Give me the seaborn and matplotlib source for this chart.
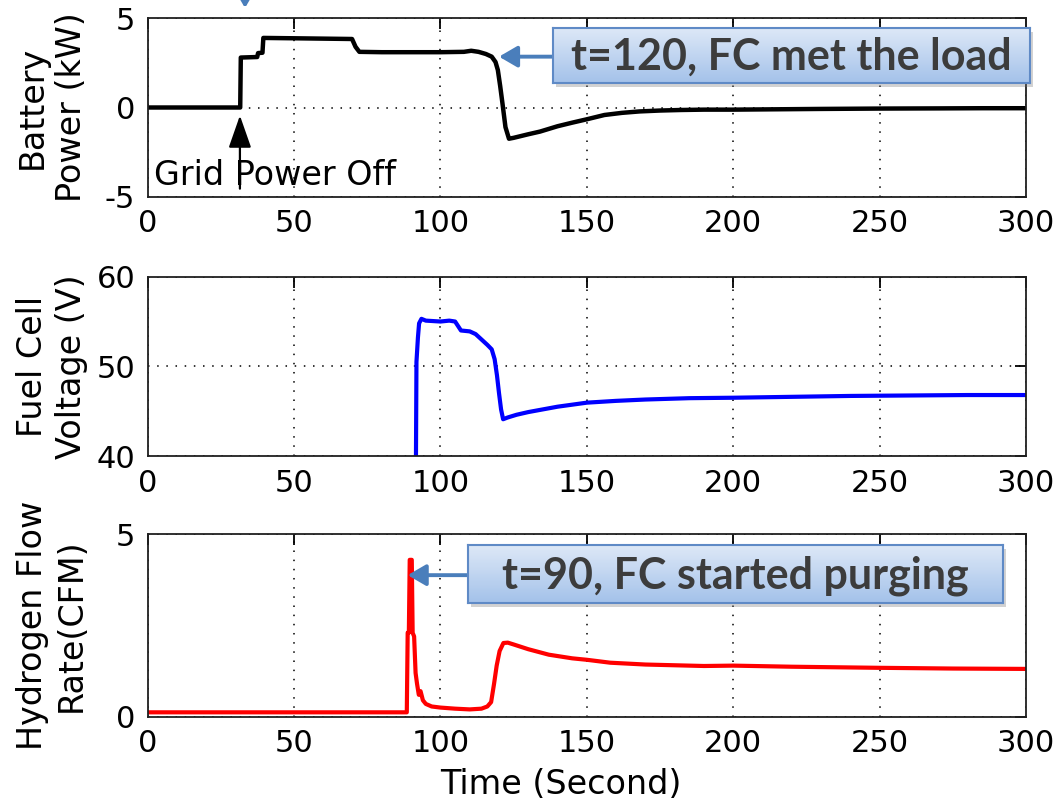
import numpy as np
import pandas as pd
import matplotlib
matplotlib.use("Agg")
import matplotlib.pyplot as plt
from matplotlib.colors import LinearSegmentedColormap
from matplotlib.patches import Rectangle, FancyArrowPatch
import seaborn as sns

# ---------------- data ----------------
batt_t = [0, 31.6, 31.8, 37.4, 37.7, 39.2, 39.5, 50, 60, 69.8, 71.0, 72.3, 80, 90, 100, 108,
          110.5, 113, 115.5, 117.5, 118.8, 119.6, 120.4, 121.2, 122.2, 123.4, 125, 130, 134,
          140, 145, 150, 156, 162, 168, 175, 182, 190, 200, 215, 230, 250, 270, 285, 300]
batt_p = [0, 0, 2.8, 2.83, 3.05, 3.07, 3.9, 3.88, 3.86, 3.84, 3.4, 3.12, 3.1, 3.1, 3.1, 3.12,
          3.18, 3.12, 3.0, 2.85, 2.55, 2.1, 1.2, 0.2, -1.1, -1.75, -1.7, -1.5, -1.35,
          -1.05, -0.85, -0.66, -0.42, -0.3, -0.22, -0.17, -0.14, -0.12, -0.12, -0.1, -0.08,
          -0.06, -0.05, -0.04, -0.04]

fc_t = [91.6, 91.8, 92.3, 92.7, 93.5, 95, 100, 103, 105, 106, 107, 110, 112, 114, 116, 117.5,
        118.5, 119.3, 120.0, 120.7, 121.4, 123, 126, 130, 135, 140, 150, 160, 170, 185, 200,
        220, 240, 260, 280, 300]
fc_v = [38, 50.5, 53.2, 54.8, 55.3, 55.1, 55.0, 55.1, 55.0, 54.5, 54.0, 53.9, 53.6, 53.0, 52.4,
        51.9, 50.8, 49.0, 47.0, 45.2, 44.1, 44.3, 44.6, 44.9, 45.2, 45.5, 45.95, 46.15, 46.3,
        46.45, 46.5, 46.6, 46.7, 46.75, 46.8, 46.8]

h2_t = [0, 88.5, 88.8, 89.2, 89.5, 90.2, 90.5, 91.0, 91.5, 92.0, 92.6, 93.2, 94, 95, 97, 100,
        105, 110, 114, 116, 117.3, 118.3, 119.2, 120.2, 121.5, 123, 125, 130, 137, 145, 150,
        158, 170, 190, 200, 220, 250, 275, 300]
h2_f = [0.12, 0.12, 2.3, 2.3, 4.3, 4.3, 2.3, 2.2, 1.2, 0.9, 0.6, 0.7, 0.45, 0.35, 0.28, 0.25,
        0.22, 0.2, 0.22, 0.28, 0.4, 0.9, 1.4, 1.8, 2.02, 2.03, 1.98, 1.85, 1.7, 1.6, 1.56,
        1.48, 1.43, 1.39, 1.4, 1.37, 1.34, 1.32, 1.31]

x_ticks = [0, 50, 100, 150, 200, 250, 300]
ylabels = ["Battery\nPower (kW)", "Fuel Cell\nVoltage (V)", "Hydrogen Flow\nRate(CFM)"]
xlabel = "Time (Second)"
note_grid = "Grid Power Off"
note_load = "t=120, FC met the load"
note_purge = "t=90, FC started purging"

# ---------------- style ----------------
sns.set_style("white")
plt.rcParams['font.family'] = ['DejaVu Sans']
plt.rcParams['axes.edgecolor'] = '#202020'
plt.rcParams['axes.linewidth'] = 1.3
plt.rcParams['text.color'] = 'black'
plt.rcParams['axes.labelcolor'] = 'black'
plt.rcParams['xtick.color'] = 'black'
plt.rcParams['ytick.color'] = 'black'
plt.rcParams['axes.unicode_minus'] = False

W, H = 1061, 811
fig = plt.figure(figsize=(W / 100, H / 100), dpi=100)

def frac_rect(left, top, right, bottom):
    return [left / W, 1 - bottom / H, (right - left) / W, (bottom - top) / H]

ax1 = fig.add_axes(frac_rect(147.7, 18.3, 1026, 196.7))
ax2 = fig.add_axes(frac_rect(147.7, 276.7, 1026, 456.0))
ax3 = fig.add_axes(frac_rect(147.7, 534.3, 1026, 716.7))

df1 = pd.DataFrame({"t": batt_t, "v": batt_p})
df2 = pd.DataFrame({"t": fc_t, "v": fc_v})
df3 = pd.DataFrame({"t": h2_t, "v": h2_f})

sns.lineplot(data=df1, x="t", y="v", ax=ax1, color="black", lw=3.2, estimator=None, sort=False)
sns.lineplot(data=df2, x="t", y="v", ax=ax2, color="#0000ff", lw=3.0, estimator=None, sort=False)
sns.lineplot(data=df3, x="t", y="v", ax=ax3, color="#ff0000", lw=3.0, estimator=None, sort=False)

ylims = [(-5, 5), (40, 60), (0, 5)]
yticks = [[-5, 0, 5], [40, 50, 60], [0, 5]]
for ax, yl, yt, lab in zip([ax1, ax2, ax3], ylims, yticks, ylabels):
    ax.set_xlim(0, 300)
    ax.set_ylim(*yl)
    ax.set_xticks(x_ticks)
    ax.set_yticks(yt)
    ax.tick_params(direction="in", length=8, width=1.3, top=True, right=True,
                   labelsize=22, pad=9, colors="black")
    ax.grid(True, color="black", linestyle=(0, (1, 5)), linewidth=1.1)
    ax.set_xlabel("")
    ax.set_ylabel(lab, fontsize=24, linespacing=1.25, va="center", color="black")
    ax.yaxis.set_label_coords(-0.109, 0.5)
    for s in ax.spines.values():
        s.set_visible(True)
        s.set_color("#202020")

ax3.set_xlabel(xlabel, fontsize=24, va="center", color="black")
ax3.xaxis.set_label_coords(0.47, -0.37)

# Grid power off annotation
ax1.text(2.2, -3.8, note_grid, fontsize=24, va="center", ha="left", color="black")
ax1.annotate("", xy=(31.5, -0.45), xytext=(31.5, -4.55),
             arrowprops=dict(arrowstyle="-|>,head_length=1.0,head_width=0.35",
                             color="black", lw=1.6, mutation_scale=20, shrinkA=0, shrinkB=0))

# Blue arrows
blue = "#4a7ebb"
ax1.annotate("", xy=(120.0, 2.85), xytext=(138.5, 2.85),
             arrowprops=dict(arrowstyle="-|>,head_length=0.55,head_width=0.32",
                             color=blue, lw=2.8, mutation_scale=20, shrinkA=0, shrinkB=0))
ax3.annotate("", xy=(88.8, 3.88), xytext=(109.5, 3.88),
             arrowprops=dict(arrowstyle="-|>,head_length=0.55,head_width=0.32",
                             color=blue, lw=2.8, mutation_scale=20, shrinkA=0, shrinkB=0))
fig.add_artist(FancyArrowPatch(
    posA=(245 / W, 1 + 40 / H), posB=(245 / W, 1 - 8 / H), transform=fig.transFigure,
    arrowstyle="-|>,head_length=0.55,head_width=0.32", color=blue, lw=2.8,
    mutation_scale=20, shrinkA=0, shrinkB=0))

# Callout boxes with gradient fill
cmap = LinearSegmentedColormap.from_list("box", ["#dde8f7", "#a4c2ea"])
grad = np.linspace(0, 1, 64).reshape(-1, 1)

def callout(left, top, right, bottom, text, size):
    rect = frac_rect(left, top, right, bottom)
    shadow = Rectangle((rect[0] + 3 / W, rect[1] - 4 / H), rect[2], rect[3],
                       transform=fig.transFigure, facecolor="#7f7f7f", alpha=0.35,
                       edgecolor="none", zorder=9)
    fig.add_artist(shadow)
    bax = fig.add_axes(rect, zorder=10)
    bax.imshow(grad, aspect="auto", cmap=cmap, extent=[0, 1, 0, 1], origin="upper")
    bax.set_xlim(0, 1)
    bax.set_ylim(0, 1)
    bax.set_xticks([])
    bax.set_yticks([])
    for s in bax.spines.values():
        s.set_visible(True)
        s.set_color("#5f8ac6")
        s.set_linewidth(1.5)
    bax.text(0.5, 0.47, text, transform=bax.transAxes, ha="center", va="center",
             fontsize=size, fontweight="bold", color="#3c3c3c", family=["Lato", "DejaVu Sans"])

callout(553, 28, 1030, 83, note_load, 31)
callout(468, 545, 1003, 603, note_purge, 31)

fig.savefig("out.png", dpi=100)
